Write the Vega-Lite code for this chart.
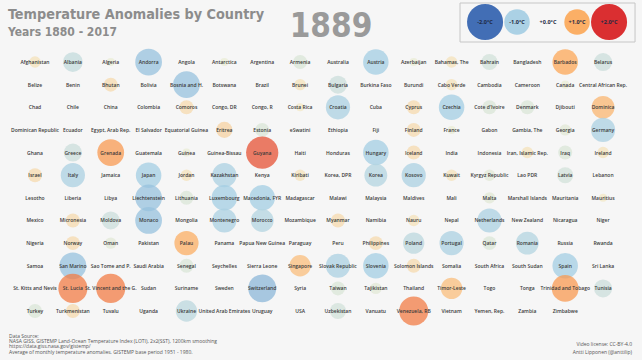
{
  "$schema": "https://vega.github.io/schema/vega-lite/v6.json",
  "width": 642,
  "height": 360,
  "autosize": "none",
  "padding": 0,
  "background": "#f6f6f6",
  "config": {"view": {"stroke": null}},
  "datasets": {
    "countries": [
      {"country": "Afghanistan", "col": 0, "row": 0, "anomaly": 0.2},
      {"country": "Albania", "col": 1, "row": 0, "anomaly": -0.6},
      {"country": "Algeria", "col": 2, "row": 0, "anomaly": -0.1},
      {"country": "Andorra", "col": 3, "row": 0, "anomaly": -1.1},
      {"country": "Angola", "col": 4, "row": 0, "anomaly": 0.0},
      {"country": "Antarctica", "col": 5, "row": 0, "anomaly": -0.1},
      {"country": "Argentina", "col": 6, "row": 0, "anomaly": 0.0},
      {"country": "Armenia", "col": 7, "row": 0, "anomaly": -0.3},
      {"country": "Australia", "col": 8, "row": 0, "anomaly": 0.0},
      {"country": "Austria", "col": 9, "row": 0, "anomaly": -1.0},
      {"country": "Azerbaijan", "col": 10, "row": 0, "anomaly": -0.1},
      {"country": "Bahamas, The", "col": 11, "row": 0, "anomaly": 0.2},
      {"country": "Bahrain", "col": 12, "row": 0, "anomaly": -0.4},
      {"country": "Bangladesh", "col": 13, "row": 0, "anomaly": 0.0},
      {"country": "Barbados", "col": 14, "row": 0, "anomaly": 1.0},
      {"country": "Belarus", "col": 15, "row": 0, "anomaly": -0.5},
      {"country": "Belize", "col": 0, "row": 1, "anomaly": 0.0},
      {"country": "Benin", "col": 1, "row": 1, "anomaly": 0.0},
      {"country": "Bhutan", "col": 2, "row": 1, "anomaly": 0.3},
      {"country": "Bolivia", "col": 3, "row": 1, "anomaly": 0.0},
      {"country": "Bosnia and H.", "col": 4, "row": 1, "anomaly": -1.1},
      {"country": "Botswana", "col": 5, "row": 1, "anomaly": 0.0},
      {"country": "Brazil", "col": 6, "row": 1, "anomaly": 0.0},
      {"country": "Brunei", "col": 7, "row": 1, "anomaly": 0.2},
      {"country": "Bulgaria", "col": 8, "row": 1, "anomaly": -0.5},
      {"country": "Burkina Faso", "col": 9, "row": 1, "anomaly": 0.0},
      {"country": "Burundi", "col": 10, "row": 1, "anomaly": 0.0},
      {"country": "Cabo Verde", "col": 11, "row": 1, "anomaly": 0.2},
      {"country": "Cambodia", "col": 12, "row": 1, "anomaly": 0.0},
      {"country": "Cameroon", "col": 13, "row": 1, "anomaly": 0.0},
      {"country": "Canada", "col": 14, "row": 1, "anomaly": -0.1},
      {"country": "Central African Rep.", "col": 15, "row": 1, "anomaly": 0.0},
      {"country": "Chad", "col": 0, "row": 2, "anomaly": 0.0},
      {"country": "Chile", "col": 1, "row": 2, "anomaly": 0.0},
      {"country": "China", "col": 2, "row": 2, "anomaly": 0.0},
      {"country": "Colombia", "col": 3, "row": 2, "anomaly": 0.0},
      {"country": "Comoros", "col": 4, "row": 2, "anomaly": 0.3},
      {"country": "Congo, DR", "col": 5, "row": 2, "anomaly": 0.0},
      {"country": "Congo, R", "col": 6, "row": 2, "anomaly": 0.0},
      {"country": "Costa Rica", "col": 7, "row": 2, "anomaly": 0.1},
      {"country": "Croatia", "col": 8, "row": 2, "anomaly": -0.9},
      {"country": "Cuba", "col": 9, "row": 2, "anomaly": 0.0},
      {"country": "Cyprus", "col": 10, "row": 2, "anomaly": 0.3},
      {"country": "Czechia", "col": 11, "row": 2, "anomaly": -1.0},
      {"country": "Cote d'Ivoire", "col": 12, "row": 2, "anomaly": -0.3},
      {"country": "Denmark", "col": 13, "row": 2, "anomaly": -0.3},
      {"country": "Djibouti", "col": 14, "row": 2, "anomaly": 0.0},
      {"country": "Dominica", "col": 15, "row": 2, "anomaly": 0.8},
      {"country": "Dominican Republic", "col": 0, "row": 3, "anomaly": 0.0},
      {"country": "Ecuador", "col": 1, "row": 3, "anomaly": 0.0},
      {"country": "Egypt, Arab Rep.", "col": 2, "row": 3, "anomaly": 0.0},
      {"country": "El Salvador", "col": 3, "row": 3, "anomaly": 0.0},
      {"country": "Equatorial Guinea", "col": 4, "row": 3, "anomaly": 0.0},
      {"country": "Eritrea", "col": 5, "row": 3, "anomaly": 0.4},
      {"country": "Estonia", "col": 6, "row": 3, "anomaly": -0.3},
      {"country": "eSwatini", "col": 7, "row": 3, "anomaly": 0.0},
      {"country": "Ethiopia", "col": 8, "row": 3, "anomaly": 0.0},
      {"country": "Fiji", "col": 9, "row": 3, "anomaly": 0.0},
      {"country": "Finland", "col": 10, "row": 3, "anomaly": 0.3},
      {"country": "France", "col": 11, "row": 3, "anomaly": -0.1},
      {"country": "Gabon", "col": 12, "row": 3, "anomaly": 0.0},
      {"country": "Gambia, The", "col": 13, "row": 3, "anomaly": 0.0},
      {"country": "Georgia", "col": 14, "row": 3, "anomaly": -0.2},
      {"country": "Germany", "col": 15, "row": 3, "anomaly": -0.9},
      {"country": "Ghana", "col": 0, "row": 4, "anomaly": 0.0},
      {"country": "Greece", "col": 1, "row": 4, "anomaly": -0.5},
      {"country": "Grenada", "col": 2, "row": 4, "anomaly": 1.1},
      {"country": "Guatemala", "col": 3, "row": 4, "anomaly": 0.0},
      {"country": "Guinea", "col": 4, "row": 4, "anomaly": -0.1},
      {"country": "Guinea-Bissau", "col": 5, "row": 4, "anomaly": 0.0},
      {"country": "Guyana", "col": 6, "row": 4, "anomaly": 1.6},
      {"country": "Haiti", "col": 7, "row": 4, "anomaly": 0.0},
      {"country": "Honduras", "col": 8, "row": 4, "anomaly": 0.0},
      {"country": "Hungary", "col": 9, "row": 4, "anomaly": -1.0},
      {"country": "Iceland", "col": 10, "row": 4, "anomaly": 0.3},
      {"country": "India", "col": 11, "row": 4, "anomaly": 0.0},
      {"country": "Indonesia", "col": 12, "row": 4, "anomaly": 0.0},
      {"country": "Iran, Islamic Rep.", "col": 13, "row": 4, "anomaly": 0.2},
      {"country": "Iraq", "col": 14, "row": 4, "anomaly": -0.3},
      {"country": "Ireland", "col": 15, "row": 4, "anomaly": 0.2},
      {"country": "Israel", "col": 0, "row": 5, "anomaly": 0.3},
      {"country": "Italy", "col": 1, "row": 5, "anomaly": -0.9},
      {"country": "Jamaica", "col": 2, "row": 5, "anomaly": 0.0},
      {"country": "Japan", "col": 3, "row": 5, "anomaly": -1.0},
      {"country": "Jordan", "col": 4, "row": 5, "anomaly": 0.2},
      {"country": "Kazakhstan", "col": 5, "row": 5, "anomaly": -0.9},
      {"country": "Kenya", "col": 6, "row": 5, "anomaly": 0.0},
      {"country": "Kiribati", "col": 7, "row": 5, "anomaly": 0.2},
      {"country": "Korea, DPR", "col": 8, "row": 5, "anomaly": 0.0},
      {"country": "Korea", "col": 9, "row": 5, "anomaly": -0.8},
      {"country": "Kosovo", "col": 10, "row": 5, "anomaly": -0.9},
      {"country": "Kuwait", "col": 11, "row": 5, "anomaly": 0.2},
      {"country": "Kyrgyz Republic", "col": 12, "row": 5, "anomaly": -0.2},
      {"country": "Lao PDR", "col": 13, "row": 5, "anomaly": 0.0},
      {"country": "Latvia", "col": 14, "row": 5, "anomaly": -0.4},
      {"country": "Lebanon", "col": 15, "row": 5, "anomaly": 0.0},
      {"country": "Lesotho", "col": 0, "row": 6, "anomaly": 0.0},
      {"country": "Liberia", "col": 1, "row": 6, "anomaly": 0.0},
      {"country": "Libya", "col": 2, "row": 6, "anomaly": 0.0},
      {"country": "Liechtenstein", "col": 3, "row": 6, "anomaly": -1.1},
      {"country": "Lithuania", "col": 4, "row": 6, "anomaly": -0.3},
      {"country": "Luxembourg", "col": 5, "row": 6, "anomaly": -1.0},
      {"country": "Macedonia, FYR", "col": 6, "row": 6, "anomaly": -1.0},
      {"country": "Madagascar", "col": 7, "row": 6, "anomaly": 0.0},
      {"country": "Malawi", "col": 8, "row": 6, "anomaly": 0.0},
      {"country": "Malaysia", "col": 9, "row": 6, "anomaly": 0.0},
      {"country": "Maldives", "col": 10, "row": 6, "anomaly": 0.0},
      {"country": "Mali", "col": 11, "row": 6, "anomaly": 0.0},
      {"country": "Malta", "col": 12, "row": 6, "anomaly": -0.2},
      {"country": "Marshall Islands", "col": 13, "row": 6, "anomaly": 0.0},
      {"country": "Mauritania", "col": 14, "row": 6, "anomaly": 0.0},
      {"country": "Mauritius", "col": 15, "row": 6, "anomaly": 0.1},
      {"country": "Mexico", "col": 0, "row": 7, "anomaly": 0.0},
      {"country": "Micronesia", "col": 1, "row": 7, "anomaly": 0.3},
      {"country": "Moldova", "col": 2, "row": 7, "anomaly": -0.5},
      {"country": "Monaco", "col": 3, "row": 7, "anomaly": -1.1},
      {"country": "Mongolia", "col": 4, "row": 7, "anomaly": 0.0},
      {"country": "Montenegro", "col": 5, "row": 7, "anomaly": -0.9},
      {"country": "Morocco", "col": 6, "row": 7, "anomaly": -0.8},
      {"country": "Mozambique", "col": 7, "row": 7, "anomaly": 0.0},
      {"country": "Myanmar", "col": 8, "row": 7, "anomaly": 0.3},
      {"country": "Namibia", "col": 9, "row": 7, "anomaly": 0.0},
      {"country": "Nauru", "col": 10, "row": 7, "anomaly": 0.2},
      {"country": "Nepal", "col": 11, "row": 7, "anomaly": 0.0},
      {"country": "Netherlands", "col": 12, "row": 7, "anomaly": -0.9},
      {"country": "New Zealand", "col": 13, "row": 7, "anomaly": 0.0},
      {"country": "Nicaragua", "col": 14, "row": 7, "anomaly": 0.0},
      {"country": "Niger", "col": 15, "row": 7, "anomaly": 0.0},
      {"country": "Nigeria", "col": 0, "row": 8, "anomaly": 0.0},
      {"country": "Norway", "col": 1, "row": 8, "anomaly": 0.3},
      {"country": "Oman", "col": 2, "row": 8, "anomaly": -0.2},
      {"country": "Pakistan", "col": 3, "row": 8, "anomaly": 0.0},
      {"country": "Palau", "col": 4, "row": 8, "anomaly": 0.9},
      {"country": "Panama", "col": 5, "row": 8, "anomaly": 0.0},
      {"country": "Papua New Guinea", "col": 6, "row": 8, "anomaly": 0.0},
      {"country": "Paraguay", "col": 7, "row": 8, "anomaly": 0.0},
      {"country": "Peru", "col": 8, "row": 8, "anomaly": 0.0},
      {"country": "Philippines", "col": 9, "row": 8, "anomaly": 0.3},
      {"country": "Poland", "col": 10, "row": 8, "anomaly": -0.7},
      {"country": "Portugal", "col": 11, "row": 8, "anomaly": -0.9},
      {"country": "Qatar", "col": 12, "row": 8, "anomaly": -0.3},
      {"country": "Romania", "col": 13, "row": 8, "anomaly": -0.8},
      {"country": "Russia", "col": 14, "row": 8, "anomaly": 0.0},
      {"country": "Rwanda", "col": 15, "row": 8, "anomaly": 0.0},
      {"country": "Samoa", "col": 0, "row": 9, "anomaly": 0.0},
      {"country": "San Marino", "col": 1, "row": 9, "anomaly": -1.1},
      {"country": "Sao Tome and P.", "col": 2, "row": 9, "anomaly": 0.0},
      {"country": "Saudi Arabia", "col": 3, "row": 9, "anomaly": 0.0},
      {"country": "Senegal", "col": 4, "row": 9, "anomaly": -0.3},
      {"country": "Seychelles", "col": 5, "row": 9, "anomaly": 0.0},
      {"country": "Sierra Leone", "col": 6, "row": 9, "anomaly": 0.0},
      {"country": "Singapore", "col": 7, "row": 9, "anomaly": 0.7},
      {"country": "Slovak Republic", "col": 8, "row": 9, "anomaly": -0.9},
      {"country": "Slovenia", "col": 9, "row": 9, "anomaly": -1.0},
      {"country": "Solomon Islands", "col": 10, "row": 9, "anomaly": 0.3},
      {"country": "Somalia", "col": 11, "row": 9, "anomaly": 0.0},
      {"country": "South Africa", "col": 12, "row": 9, "anomaly": 0.0},
      {"country": "South Sudan", "col": 13, "row": 9, "anomaly": 0.0},
      {"country": "Spain", "col": 14, "row": 9, "anomaly": -1.0},
      {"country": "Sri Lanka", "col": 15, "row": 9, "anomaly": 0.0},
      {"country": "St. Kitts and Nevis", "col": 0, "row": 10, "anomaly": 0.0},
      {"country": "St. Lucia", "col": 1, "row": 10, "anomaly": 1.3},
      {"country": "St. Vincent and the G.", "col": 2, "row": 10, "anomaly": 1.3},
      {"country": "Sudan", "col": 3, "row": 10, "anomaly": 0.0},
      {"country": "Suriname", "col": 4, "row": 10, "anomaly": 0.0},
      {"country": "Sweden", "col": 5, "row": 10, "anomaly": 0.0},
      {"country": "Switzerland", "col": 6, "row": 10, "anomaly": -1.2},
      {"country": "Syria", "col": 7, "row": 10, "anomaly": 0.0},
      {"country": "Taiwan", "col": 8, "row": 10, "anomaly": -0.3},
      {"country": "Tajikistan", "col": 9, "row": 10, "anomaly": -0.2},
      {"country": "Thailand", "col": 10, "row": 10, "anomaly": 0.0},
      {"country": "Timor-Leste", "col": 11, "row": 10, "anomaly": 0.7},
      {"country": "Togo", "col": 12, "row": 10, "anomaly": 0.0},
      {"country": "Tonga", "col": 13, "row": 10, "anomaly": 0.0},
      {"country": "Trinidad and Tobago", "col": 14, "row": 10, "anomaly": 1.1},
      {"country": "Tunisia", "col": 15, "row": 10, "anomaly": -0.5},
      {"country": "Turkey", "col": 0, "row": 11, "anomaly": -0.3},
      {"country": "Turkmenistan", "col": 1, "row": 11, "anomaly": 0.3},
      {"country": "Tuvalu", "col": 2, "row": 11, "anomaly": 0.0},
      {"country": "Uganda", "col": 3, "row": 11, "anomaly": 0.0},
      {"country": "Ukraine", "col": 4, "row": 11, "anomaly": -0.7},
      {"country": "United Arab Emirates", "col": 5, "row": 11, "anomaly": 0.0},
      {"country": "Uruguay", "col": 6, "row": 11, "anomaly": 0.0},
      {"country": "USA", "col": 7, "row": 11, "anomaly": 0.0},
      {"country": "Uzbekistan", "col": 8, "row": 11, "anomaly": -0.4},
      {"country": "Vanuatu", "col": 9, "row": 11, "anomaly": 0.0},
      {"country": "Venezuela, RB", "col": 10, "row": 11, "anomaly": 1.3},
      {"country": "Vietnam", "col": 11, "row": 11, "anomaly": 0.0},
      {"country": "Yemen, Rep.", "col": 12, "row": 11, "anomaly": 0.0},
      {"country": "Zambia", "col": 13, "row": 11, "anomaly": 0.0},
      {"country": "Zimbabwe", "col": 14, "row": 11, "anomaly": 0.0}
    ],
    "legend": [
      {"label": "-2.0°C", "col": 11.884, "row": -1.767, "anomaly": -2},
      {"label": "-1.0°C", "col": 12.728, "row": -1.767, "anomaly": -1},
      {"label": "+0.0°C", "col": 13.547, "row": -1.767, "anomaly": 0},
      {"label": "+1.0°C", "col": 14.313, "row": -1.767, "anomaly": 1},
      {"label": "+2.0°C", "col": 15.158, "row": -1.767, "anomaly": 2}
    ],
    "box": [
      {"col": 11.223, "col2": 15.844, "row": -2.607, "row2": -0.884}
    ],
    "notes": [
      {"kind": "title", "text": "Temperature Anomalies by Country", "col": -0.713, "row": -1.9},
      {"kind": "subtitle", "text": "Years 1880 - 2017", "col": -0.713, "row": -1.149},
      {"kind": "year", "text": "1889", "col": 7.816, "row": -1.105},
      {"kind": "left", "text": "Data Source:", "col": -0.686, "row": 12.102},
      {"kind": "left", "text": "NASA GISS, GISTEMP Land-Ocean Temperature Index (LOTI), 2x2(SST), 1200km smoothing", "col": -0.686, "row": 12.323},
      {"kind": "left", "text": "https://data.giss.nasa.gov/gistemp/", "col": -0.686, "row": 12.566},
      {"kind": "left", "text": "Average of monthly temperature anomalies. GISTEMP base period 1951 - 1980.", "col": -0.686, "row": 12.809},
      {"kind": "right", "text": "Video license: CC-BY-4.0", "col": 15.765, "row": 12.456},
      {"kind": "right", "text": "Antti Lipponen (@anttilip)", "col": 15.765, "row": 12.809}
    ]
  },
  "encoding": {
    "x": {"field": "col", "type": "quantitative", "scale": {"domain": [-0.924, 16.028], "nice": false, "zero": false}, "axis": null},
    "y": {"field": "row", "type": "quantitative", "scale": {"domain": [-2.739, 13.163], "nice": false, "zero": false, "reverse": true}, "axis": null}
  },
  "layer": [
    {
      "data": {"name": "box"},
      "mark": {"type": "rect", "fill": "#f6f6f6", "stroke": "#c6c6c6", "strokeWidth": 1},
      "encoding": {"x2": {"field": "col2"}, "y2": {"field": "row2"}}
    },
    {
      "data": {"name": "countries"},
      "mark": {"type": "circle", "opacity": 0.75},
      "encoding": {
        "color": {"field": "anomaly", "type": "quantitative", "scale": {"domain": [-2, -1, 0, 1, 2], "range": ["#2f5fae", "#a3cde3", "#f2efd2", "#fca757", "#d7191c"], "interpolate": "rgb", "clamp": true}, "legend": null},
        "size": {"field": "anomaly", "type": "quantitative", "scale": {"domain": [-2, 0, 2], "range": [1300, 0, 1300]}, "legend": null}
      }
    },
    {
      "data": {"name": "legend"},
      "mark": {"type": "circle", "opacity": 0.9},
      "encoding": {
        "color": {"field": "anomaly", "type": "quantitative", "legend": null},
        "size": {"field": "anomaly", "type": "quantitative", "legend": null}
      }
    },
    {
      "data": {"name": "countries"},
      "mark": {"type": "text", "font": "Open Sans", "fontSize": 5, "fontWeight": 600, "fill": "#3a3a3a"},
      "encoding": {"text": {"field": "country"}}
    },
    {
      "data": {"name": "legend"},
      "mark": {"type": "text", "font": "Open Sans", "fontSize": 5.5, "fontWeight": "bold", "fill": "#1f2a44"},
      "encoding": {"text": {"field": "label"}}
    },
    {
      "data": {"name": "notes"},
      "transform": [{"filter": "datum.kind === 'title'"}],
      "mark": {"type": "text", "align": "left", "baseline": "alphabetic", "font": "'DejaVu Sans Condensed', 'Liberation Sans Narrow', Roboto, sans-serif", "fontSize": 14.3, "fontWeight": "bold", "fill": "#8c8c8c"},
      "encoding": {"text": {"field": "text"}}
    },
    {
      "data": {"name": "notes"},
      "transform": [{"filter": "datum.kind === 'subtitle'"}],
      "mark": {"type": "text", "align": "left", "baseline": "alphabetic", "font": "'DejaVu Sans Condensed', 'Liberation Sans Narrow', Roboto, sans-serif", "fontSize": 12, "fontWeight": "bold", "fill": "#8c8c8c"},
      "encoding": {"text": {"field": "text"}}
    },
    {
      "data": {"name": "notes"},
      "transform": [{"filter": "datum.kind === 'year'"}],
      "mark": {"type": "text", "align": "center", "baseline": "alphabetic", "font": "'DejaVu Sans Condensed', 'Liberation Sans Narrow', Roboto, sans-serif", "fontSize": 33, "fontWeight": "bold", "fill": "#9a9a9a"},
      "encoding": {"text": {"field": "text"}}
    },
    {
      "data": {"name": "notes"},
      "transform": [{"filter": "datum.kind === 'left'"}],
      "mark": {"type": "text", "align": "left", "baseline": "middle", "font": "Open Sans", "fontSize": 5, "fill": "#555555"},
      "encoding": {"text": {"field": "text"}}
    },
    {
      "data": {"name": "notes"},
      "transform": [{"filter": "datum.kind === 'right'"}],
      "mark": {"type": "text", "align": "right", "baseline": "middle", "font": "Open Sans", "fontSize": 5, "fill": "#555555"},
      "encoding": {"text": {"field": "text"}}
    }
  ]
}
